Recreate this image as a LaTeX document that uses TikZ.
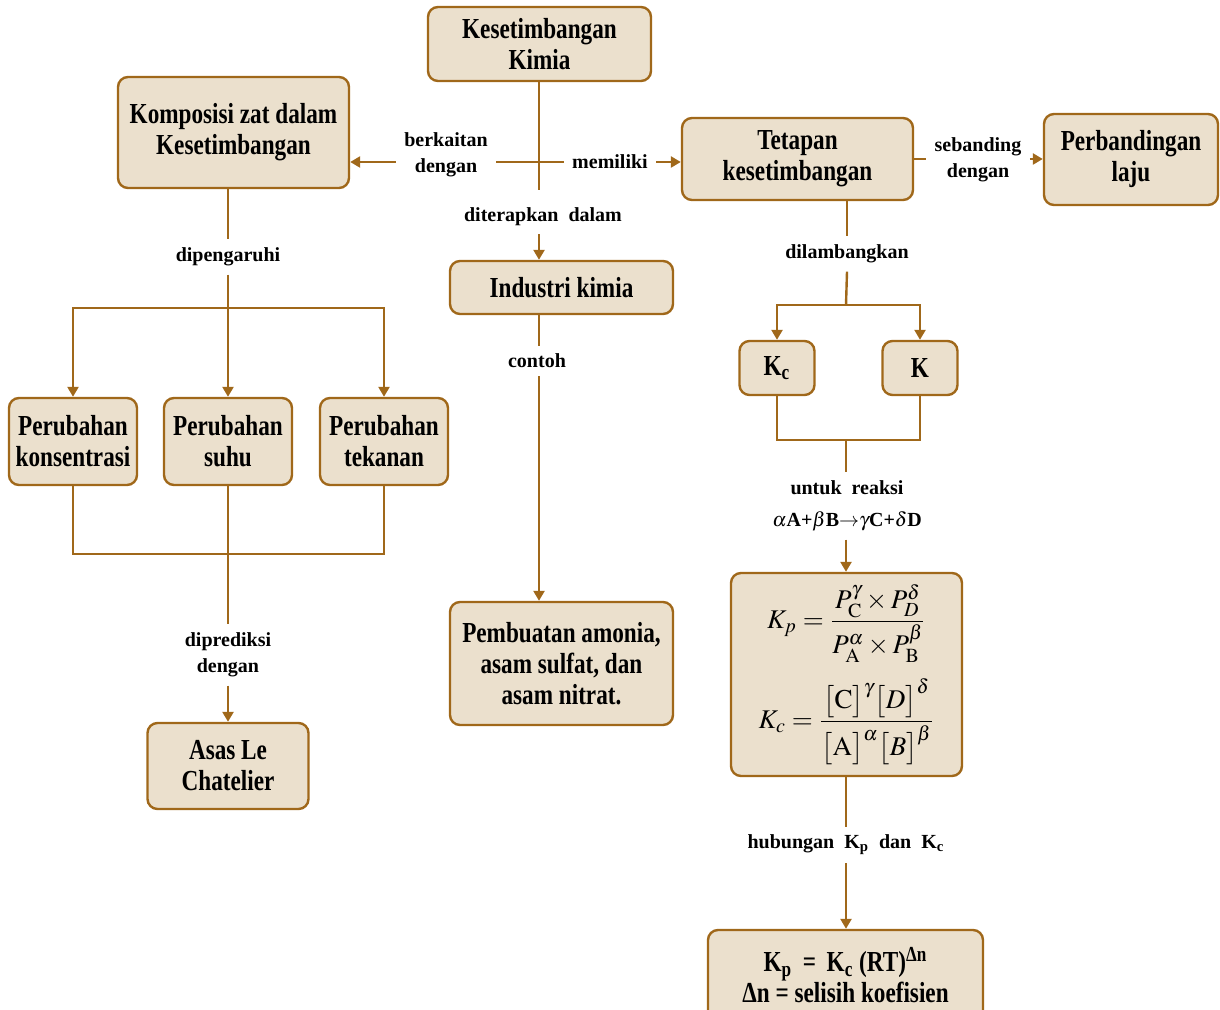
\documentclass[tikz,border=0pt]{standalone}
\usepackage{mathptmx}
\usepackage{fontspec}
\setmainfont{Liberation Serif}
\newfontfamily\boxfont[FakeStretch=0.8]{Liberation Serif}
\usetikzlibrary{arrows.meta, positioning, calc}
\definecolor{konsep}{RGB}{160,104,26}
\definecolor{isi}{RGB}{235,224,205}

\begin{document}
\begin{tikzpicture}[x=0.5pt, y=-0.5pt,
      box/.style={draw=konsep, fill=isi, line width=1.2pt, rounded corners=5pt,
                  align=center, inner sep=2pt,
                  font=\boxfont\bfseries\fontsize{14.5}{15.5}\selectfont},
      lbl/.style={align=center, inner sep=4pt, font=\bfseries\fontsize{10}{13}\selectfont},
      link/.style={draw=konsep, line width=1.2pt},
      flow/.style={link, -{Triangle[length=5pt, width=5.5pt]}}]
    \useasboundingbox (0,0) rectangle (1220,1010);
    % main concepts
    \node[box, minimum width=111.5pt, minimum height=37pt] (kimia) at (539.5,44) {Kesetimbangan\\ Kimia};
    \node[box, minimum width=115.5pt, minimum height=55.5pt] (komposisi) at (233.5,132.5) {Komposisi zat dalam\\ Kesetimbangan};
    \node[box, minimum width=115.5pt, minimum height=41pt] (tetapan) at (797.5,159) {Tetapan\\ kesetimbangan};
    \node[box, minimum width=87pt, minimum height=45.5pt] (banding) at (1131,159.5) {Perbandingan\\ laju};
    \node[box, minimum width=111.5pt, minimum height=26.5pt] (industri) at (561.5,287.5) {Industri kimia};
    \node[box, minimum width=111.5pt, minimum height=61.5pt] (pembuatan) at (561.5,663.5) {Pembuatan amonia,\\ asam sulfat, dan\\ asam nitrat.};
    % factors
    \node[box, minimum width=64pt, minimum height=43.5pt] (pkons) at (73,441.5) {Perubahan\\ konsentrasi};
    \node[box, minimum width=64pt, minimum height=43.5pt] (psuhu) at (228,441.5) {Perubahan\\ suhu};
    \node[box, minimum width=64pt, minimum height=43.5pt] (ptekan) at (384,441.5) {Perubahan\\ tekanan};
    \node[box, minimum width=80.5pt, minimum height=43pt] (asas) at (228,766) {Asas Le\\ Chatelier};
    % symbols
    \node[box, minimum width=37.5pt, minimum height=27pt] (kc) at (777,368) {K\textsubscript{c}};
    \node[box, minimum width=37.5pt, minimum height=27pt] (k) at (920,368) {K};
    \node[box, minimum width=115.5pt, minimum height=101.5pt, font=\fontsize{13.5}{16}\selectfont] (rumus) at (846.5,674.5)
      {$\displaystyle K_p=\frac{P_{\mathrm{C}}^{\gamma}\times P_{D}^{\delta}}{P_{\mathrm{A}}^{\alpha}\times P_{\mathrm{B}}^{\beta}}$\\[7pt]
       $\displaystyle K_c=\frac{\big[\mathrm{C}\big]^{\gamma}\big[D\big]^{\delta}}{\big[\mathrm{A}\big]^{\alpha}\big[B\big]^{\beta}}$};
    \node[box, minimum width=137.5pt, minimum height=45pt] (relasi) at (845.5,975)
      {K\textsubscript{p}\, = \,K\textsubscript{c} (RT)\textsuperscript{Δn}\\ Δn = selisih koefisien};
    % labels
    \node[lbl] (lkait) at (446,155) {berkaitan\\ dengan};
    \node[lbl] (lmilik) at (610,162) {memiliki};
    \node[lbl] (lterap) at (543,217) {diterapkan\ \ dalam};
    \node[lbl] (lcontoh) at (537,361) {contoh};
    \node[lbl] (lsebanding) at (978,160) {sebanding\\ dengan};
    \node[lbl] (llambang) at (847,254) {dilambangkan};
    \node[lbl] (lreaksi) at (847,506) {untuk\ \ reaksi\\[3pt] $\alpha$A+$\beta$B${\rightarrow}\gamma$C+$\delta$D};
    \node[lbl] (lhubung) at (846,845) {hubungan\ \ K\textsubscript{p}\ \ dan\ \ K\textsubscript{c}};
    \node[lbl] (lpengaruh) at (228,257) {dipengaruhi};
    \node[lbl] (lprediksi) at (228,655) {diprediksi\\ dengan};
    \coordinate (hub) at (539,162);
    \coordinate (hubend) at (539,190);
    \coordinate (fork) at (846,305);
    \coordinate (join) at (846,440);
    \coordinate (fork2) at (228,308);
    \coordinate (join2) at (228,554);
    % edges
    \draw[link] (kimia.south -| hub) -- (hubend);
    \draw[link] (hub) -- (lkait.east |- hub);
    \draw[flow] (lkait.west |- hub) -- (komposisi.east |- hub);
    \draw[link] (hub) -- (lmilik.west);
    \draw[flow] (lmilik.east) -- (tetapan.west |- lmilik);
    \draw[flow] (lterap.south -| hub) -- (industri.north -| hub);
    \draw[link] (industri.south -| hub) -- (lcontoh.north -| hub);
    \draw[flow] (lcontoh.south -| hub) -- (pembuatan.north -| hub);
    \draw[link] (tetapan.east) -- (lsebanding.west |- tetapan);
    \draw[flow] (lsebanding.east |- tetapan) -- (banding.west |- tetapan);
    \draw[link] (tetapan.south -| llambang) -- (llambang.north);
    \draw[link] (llambang.south) -- (fork);
    \draw[flow] (fork) -| (kc.north);
    \draw[flow] (fork) -| (k.north);
    \draw[link] (kc.south) |- (join) -| (k.south);
    \draw[link] (join) -- (lreaksi.north -| join);
    \draw[flow] (lreaksi.south -| join) -- (rumus.north -| join);
    \draw[link] (rumus.south -| join) -- (lhubung.north -| join);
    \draw[flow] (lhubung.south -| join) -- (relasi.north -| join);
    \draw[link] (komposisi.south -| lpengaruh) -- (lpengaruh.north);
    \draw[link] (lpengaruh.south) -- (fork2);
    \draw[flow] (fork2) -| (pkons.north);
    \draw[flow] (fork2) -- (psuhu.north);
    \draw[flow] (fork2) -| (ptekan.north);
    \draw[link] (pkons.south) |- (join2) -| (ptekan.south);
    \draw[link] (psuhu.south) -- (lprediksi.north);
    \draw[flow] (lprediksi.south) -- (asas.north);
\end{tikzpicture}
\end{document}
